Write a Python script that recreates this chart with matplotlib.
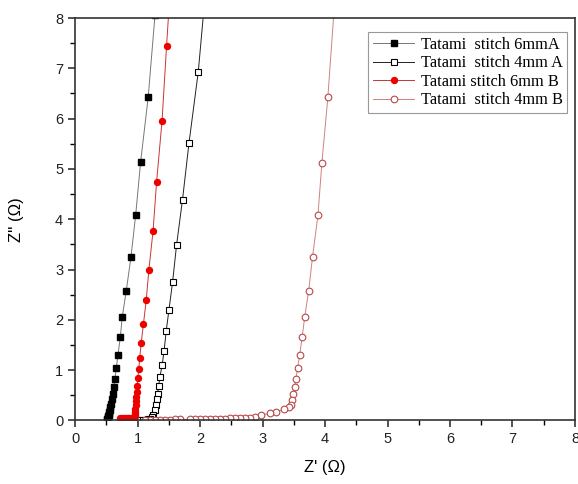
import matplotlib
matplotlib.use("Agg")
import matplotlib.pyplot as plt
from matplotlib.ticker import MultipleLocator

# Nyquist data: Z' (x) and Z'' (y), ohm

# Tatami stitch 6mmA (filled squares)
a6_x = [1.28, 1.171, 1.049, 0.97, 0.894, 0.819, 0.756, 0.724, 0.687, 0.66, 0.639,
        0.618, 0.60, 0.585, 0.573, 0.563, 0.555, 0.548, 0.542, 0.537, 0.533,
        0.529, 0.525, 0.522, 0.519, 0.516]
a6_y = [8.06, 6.43, 5.13, 4.08, 3.24, 2.57, 2.06, 1.65, 1.30, 1.04, 0.83,
        0.66, 0.53, 0.42, 0.33, 0.26, 0.21, 0.165, 0.13, 0.10, 0.08,
        0.06, 0.045, 0.03, 0.02, 0.01]

# Tatami stitch 4mm A (open squares)
a4_x = [2.10, 1.972, 1.824, 1.72, 1.624, 1.561, 1.502, 1.458, 1.426, 1.395, 1.358,
        1.337, 1.321, 1.305, 1.289, 1.273, 1.251, 1.23, 1.198, 1.16, 1.118,
        1.08, 1.038, 0.99, 0.95]
a4_y = [8.70, 6.93, 5.52, 4.39, 3.48, 2.75, 2.19, 1.77, 1.39, 1.11, 0.86,
        0.68, 0.53, 0.42, 0.30, 0.20, 0.10, 0.06, 0.034, 0.02, 0.01,
        0.008, 0.005, 0.003, 0.0]

# Tatami stitch 6mm B (filled circles)
b6_x = [1.56, 1.465, 1.392, 1.305, 1.249, 1.182, 1.139, 1.095, 1.06, 1.035, 1.02,
        1.005, 0.995, 0.987, 0.98, 0.975, 0.97, 0.966, 0.962, 0.958, 0.955,
        0.95, 0.93, 0.90, 0.87, 0.84, 0.81, 0.78, 0.75, 0.72]
b6_y = [9.30, 7.45, 5.95, 4.74, 3.77, 3.00, 2.39, 1.92, 1.55, 1.25, 1.02,
        0.84, 0.69, 0.57, 0.47, 0.38, 0.30, 0.23, 0.17, 0.12, 0.08,
        0.05, 0.04, 0.04, 0.04, 0.04, 0.04, 0.04, 0.04, 0.04]

# Tatami stitch 4mm B (open circles)
b4_x = [4.14, 4.046, 3.95, 3.887, 3.80, 3.738, 3.674, 3.634, 3.594, 3.562, 3.535,
        3.514, 3.495, 3.479, 3.454, 3.418, 3.339, 3.211, 3.123, 2.976, 2.875,
        2.80, 2.72, 2.64, 2.56, 2.48, 2.40, 2.32, 2.24, 2.16, 2.08, 2.00,
        1.92, 1.84, 1.68, 1.60, 1.52, 1.44, 1.36, 1.28, 1.20, 1.12]
b4_y = [8.07, 6.43, 5.12, 4.08, 3.25, 2.57, 2.05, 1.65, 1.30, 1.04, 0.83,
        0.66, 0.53, 0.41, 0.31, 0.27, 0.22, 0.17, 0.145, 0.11, 0.066,
        0.055, 0.05, 0.045, 0.04, 0.04, 0.035, 0.035, 0.03, 0.03, 0.03, 0.025,
        0.025, 0.02, 0.02, 0.02, 0.015, 0.015, 0.015, 0.01, 0.01, 0.01]

labels = ["Tatami  stitch 6mmA", "Tatami  stitch 4mm A",
          "Tatami stitch 6mm B", "Tatami  stitch 4mm B"]

fig = plt.figure(figsize=(5.78, 4.84), dpi=100)
ax = fig.add_axes([0.1298, 0.1312, 0.865, 0.8316])

ax.plot(a6_x, a6_y, color="#777777", lw=0.7, marker="s", ms=3.7,
        mfc="black", mec="black", label=labels[0])
ax.plot(a4_x, a4_y, color="#222222", lw=0.7, marker="s", ms=3.8,
        mfc="white", mec="black", mew=0.8, label=labels[1])
ax.plot(b6_x, b6_y, color="#cc3333", lw=0.7, marker="o", ms=4.3,
        mfc="#ee0000", mec="#ee0000", label=labels[2])
ax.plot(b4_x, b4_y, color="#d08080", lw=0.7, marker="o", ms=4.8,
        mfc="white", mec="#b84848", mew=0.8, label=labels[3])

ax.set_xlim(0, 8)
ax.set_ylim(0, 8)
ax.xaxis.set_major_locator(MultipleLocator(1))
ax.xaxis.set_minor_locator(MultipleLocator(0.5))
ax.yaxis.set_major_locator(MultipleLocator(1))
ax.yaxis.set_minor_locator(MultipleLocator(0.5))
ax.tick_params(which="major", direction="out", length=5, width=1.1,
               labelsize=10.5, colors="#222222")
ax.tick_params(which="minor", direction="out", length=3.5, width=1.0)
for t in ax.get_xticklabels() + ax.get_yticklabels():
    t.set_family("Liberation Sans")
for s in ax.spines.values():
    s.set_linewidth(1.2)
    s.set_color("#333333")

ax.set_xlabel("Z' (\u03a9)", fontsize=12, family="Liberation Sans", labelpad=10)
ax.set_ylabel("Z'' (\u03a9)", fontsize=12, family="Liberation Sans", labelpad=22)

leg = ax.legend(loc="upper right", bbox_to_anchor=(0.985, 0.965), borderaxespad=0,
                prop={"family": "Liberation Serif", "size": 11.8},
                fancybox=False, edgecolor="#999999", framealpha=1,
                handlelength=2.5, labelspacing=0.15, borderpad=0.3,
                handletextpad=0.4)
leg.get_frame().set_linewidth(0.8)

fig.savefig("out.png", dpi=100)
